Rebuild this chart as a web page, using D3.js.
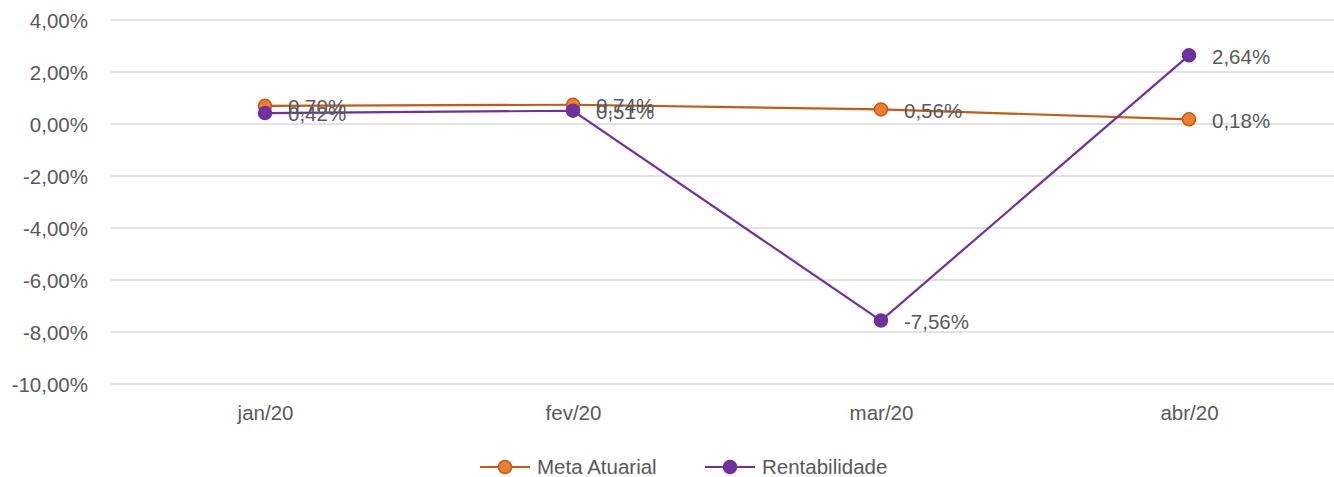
<!DOCTYPE html>
<html><head><meta charset="utf-8">
<script src="https://cdn.jsdelivr.net/npm/d3@7"></script>
<style>body{margin:0;background:#fff}svg{display:block}text{font-family:"Liberation Sans",Arial,sans-serif;fill:#595959}</style>
</head><body><svg id="c" width="1334" height="477"></svg>
<script>
const categories = ["jan/20","fev/20","mar/20","abr/20"];
const metaAtuarial = [0.70, 0.74, 0.56, 0.18];
const rentabilidade = [0.42, 0.51, -7.56, 2.64];
const yTicks = [4, 2, 0, -2, -4, -6, -8, -10];
const seriesNames = ["Meta Atuarial", "Rentabilidade"];

const svg = d3.select("#c");
const fmt = v => v.toFixed(2).replace(".", ",") + "%";
const x = d3.scalePoint().domain(categories).range([265, 1189]);
const y = d3.scaleLinear().domain([-10, 4]).range([384, 20]);
const FS = 20.5;

// grid
svg.append("g").selectAll("line").data(yTicks).join("line")
  .attr("x1", 111).attr("x2", 1334)
  .attr("y1", d => y(d)).attr("y2", d => y(d))
  .attr("stroke", "#d9d9d9").attr("stroke-width", 1.3);

// y axis labels
const yAxis = d3.axisLeft(y).tickValues(yTicks).tickFormat(fmt).tickSize(0).tickPadding(0);
const ga = svg.append("g").attr("transform", "translate(88,1)").call(yAxis);
ga.select(".domain").remove();
ga.selectAll("text").attr("font-size", FS).attr("fill", "#595959").attr("font-family", "Liberation Sans");

// x axis labels
const xAxis = d3.axisBottom(x).tickSize(0).tickPadding(0);
const gx = svg.append("g").attr("transform", "translate(0,405)").call(xAxis);
gx.select(".domain").remove();
gx.selectAll("text").attr("font-size", FS).attr("fill", "#595959").attr("font-family", "Liberation Sans");

const series = [
  {name: seriesNames[0], values: metaAtuarial, line: "#C55A11", fill: "#ED7D31", stroke: "#C55A11"},
  {name: seriesNames[1], values: rentabilidade, line: "#7030A0", fill: "#7030A0", stroke: "#7030A0"}
];
const line = d3.line().x((d, i) => x(categories[i])).y(d => y(d));

series.forEach(s => {
  svg.append("path").datum(s.values).attr("d", line)
    .attr("fill", "none").attr("stroke", s.line).attr("stroke-width", 2.2);
});
series.forEach(s => {
  svg.append("g").selectAll("circle").data(s.values).join("circle")
    .attr("cx", (d, i) => x(categories[i])).attr("cy", d => y(d)).attr("r", 6.5)
    .attr("fill", s.fill).attr("stroke", s.stroke).attr("stroke-width", 1.5);
});
series.forEach(s => {
  svg.append("g").selectAll("text").data(s.values).join("text")
    .attr("x", (d, i) => x(categories[i]) + 23).attr("y", d => y(d) + 1)
    .attr("dy", "0.36em").attr("font-size", FS).text(fmt);
});

// legend
const legend = [{s: series[0], x: 480}, {s: series[1], x: 705}];
legend.forEach(l => {
  const g = svg.append("g").attr("transform", `translate(${l.x},467)`);
  g.append("line").attr("x1", 0).attr("x2", 50).attr("stroke", l.s.line).attr("stroke-width", 2.2);
  g.append("circle").attr("cx", 25).attr("r", 6.5).attr("fill", l.s.fill).attr("stroke", l.s.stroke).attr("stroke-width", 1.5);
  g.append("text").attr("x", 57).attr("dy", "0.36em").attr("font-size", FS).text(l.s.name);
});
</script></body></html>
